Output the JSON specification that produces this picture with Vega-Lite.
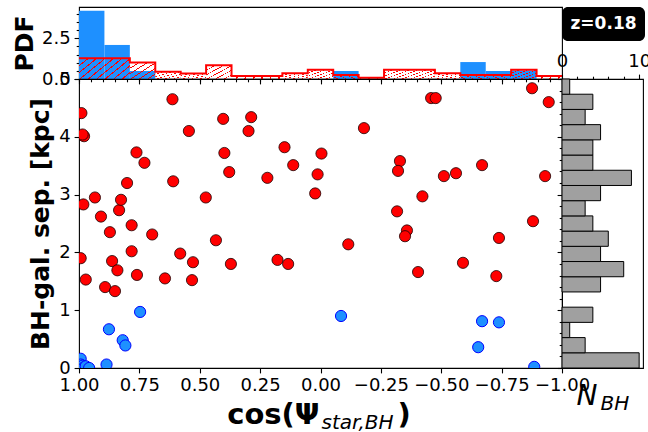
{
  "$schema": "https://vega.github.io/schema/vega-lite/v6.json",
  "background": "white",
  "padding": {"left": 11, "top": 6, "right": 5, "bottom": 5},
  "config": {
    "font": "DejaVu Sans",
    "view": {"stroke": "black", "strokeWidth": 1.1},
    "axis": {"domain": false, "grid": false, "labelFont": "DejaVu Sans", "labelFontSize": 18, "labelColor": "black", "tickColor": "black", "tickWidth": 1.1, "labelFlush": false, "labelOverlap": false, "labelBound": false, "titleFont": "DejaVu Sans", "titleColor": "black", "labelPadding": 4}
  },
  "datasets": {
    "pts": [
      {"c": 1.0, "s": 0.0, "g": "b"}, {"c": 0.995, "s": 0.10, "g": "b"}, {"c": 0.993, "s": 0.16, "g": "b"}, {"c": 0.993, "s": 0.06, "g": "b"},
      {"c": 0.985, "s": 0.04, "g": "b"}, {"c": 0.98, "s": 0.01, "g": "b"}, {"c": 0.972, "s": 0.03, "g": "b"}, {"c": 0.958, "s": 0.0, "g": "b"},
      {"c": 0.886, "s": 0.06, "g": "b"}, {"c": 0.876, "s": 0.67, "g": "b"}, {"c": 0.819, "s": 0.48, "g": "b"}, {"c": 0.808, "s": 0.39, "g": "b"},
      {"c": 0.747, "s": 0.97, "g": "b"}, {"c": -0.085, "s": 0.90, "g": "b"}, {"c": -0.653, "s": 0.36, "g": "b"}, {"c": -0.669, "s": 0.81, "g": "b"},
      {"c": -0.739, "s": 0.79, "g": "b"}, {"c": -0.885, "s": 0.02, "g": "b"},
      {"c": 0.99, "s": 4.41, "g": "r"}, {"c": 0.979, "s": 4.01, "g": "r"}, {"c": 0.985, "s": 4.04, "g": "r"}, {"c": 0.982, "s": 2.83, "g": "r"},
      {"c": 0.993, "s": 1.90, "g": "r"}, {"c": 0.972, "s": 1.53, "g": "r"}, {"c": 0.934, "s": 2.95, "g": "r"}, {"c": 0.909, "s": 2.62, "g": "r"},
      {"c": 0.872, "s": 2.35, "g": "r"}, {"c": 0.863, "s": 1.85, "g": "r"}, {"c": 0.892, "s": 1.40, "g": "r"}, {"c": 0.851, "s": 1.33, "g": "r"},
      {"c": 0.841, "s": 1.69, "g": "r"}, {"c": 0.834, "s": 2.73, "g": "r"}, {"c": 0.826, "s": 2.91, "g": "r"}, {"c": 0.801, "s": 3.20, "g": "r"},
      {"c": 0.782, "s": 2.47, "g": "r"}, {"c": 0.782, "s": 2.02, "g": "r"}, {"c": 0.760, "s": 1.61, "g": "r"}, {"c": 0.762, "s": 3.73, "g": "r"},
      {"c": 0.729, "s": 3.55, "g": "r"}, {"c": 0.697, "s": 2.31, "g": "r"}, {"c": 0.644, "s": 1.55, "g": "r"}, {"c": 0.613, "s": 4.65, "g": "r"},
      {"c": 0.610, "s": 3.23, "g": "r"}, {"c": 0.581, "s": 1.98, "g": "r"}, {"c": 0.545, "s": 4.10, "g": "r"}, {"c": 0.528, "s": 1.83, "g": "r"},
      {"c": 0.532, "s": 1.52, "g": "r"}, {"c": 0.475, "s": 2.95, "g": "r"}, {"c": 0.433, "s": 2.21, "g": "r"}, {"c": 0.403, "s": 4.31, "g": "r"},
      {"c": 0.398, "s": 3.72, "g": "r"}, {"c": 0.378, "s": 3.39, "g": "r"}, {"c": 0.371, "s": 1.80, "g": "r"}, {"c": 0.298, "s": 4.10, "g": "r"},
      {"c": 0.287, "s": 4.34, "g": "r"}, {"c": 0.220, "s": 3.29, "g": "r"}, {"c": 0.178, "s": 1.87, "g": "r"}, {"c": 0.134, "s": 1.80, "g": "r"},
      {"c": 0.149, "s": 3.82, "g": "r"}, {"c": 0.113, "s": 3.51, "g": "r"}, {"c": 0.022, "s": 3.02, "g": "r"}, {"c": 0.012, "s": 3.35, "g": "r"},
      {"c": -0.004, "s": 3.71, "g": "r"}, {"c": -0.18, "s": 4.15, "g": "r"}, {"c": -0.115, "s": 2.14, "g": "r"}, {"c": -0.329, "s": 3.58, "g": "r"},
      {"c": -0.321, "s": 3.41, "g": "r"}, {"c": -0.317, "s": 2.71, "g": "r"}, {"c": -0.358, "s": 2.38, "g": "r"}, {"c": -0.35, "s": 2.28, "g": "r"},
      {"c": -0.404, "s": 1.66, "g": "r"}, {"c": -0.422, "s": 2.97, "g": "r"}, {"c": -0.458, "s": 4.67, "g": "r"}, {"c": -0.477, "s": 4.67, "g": "r"},
      {"c": -0.511, "s": 3.32, "g": "r"}, {"c": -0.561, "s": 3.37, "g": "r"}, {"c": -0.59, "s": 1.82, "g": "r"}, {"c": -0.669, "s": 3.51, "g": "r"},
      {"c": -0.739, "s": 2.25, "g": "r"}, {"c": -0.728, "s": 1.59, "g": "r"}, {"c": -0.876, "s": 4.84, "g": "r"}, {"c": -0.945, "s": 4.60, "g": "r"},
      {"c": -0.93, "s": 3.32, "g": "r"}, {"c": -0.88, "s": 2.54, "g": "r"}
    ],
    "hx": [
      {"ser": "blue", "lo": 0.894737, "hi": 1.0, "pdf": 4.19},
      {"ser": "blue", "lo": 0.789474, "hi": 0.894737, "pdf": 2.09},
      {"ser": "blue", "lo": 0.684211, "hi": 0.789474, "pdf": 0.49},
      {"ser": "blue", "lo": -0.157895, "hi": -0.052632, "pdf": 0.49},
      {"ser": "blue", "lo": -0.684211, "hi": -0.578947, "pdf": 1.04},
      {"ser": "blue", "lo": -0.789474, "hi": -0.684211, "pdf": 0.49},
      {"ser": "blue", "lo": -0.894737, "hi": -0.789474, "pdf": 0.52},
      {"ser": "red", "lo": -1.0, "hi": -0.894737, "pdf": 0.18},
      {"ser": "red", "lo": -0.894737, "hi": -0.789474, "pdf": 0.57},
      {"ser": "red", "lo": -0.789474, "hi": -0.684211, "pdf": 0.25},
      {"ser": "red", "lo": -0.684211, "hi": -0.578947, "pdf": 0.25},
      {"ser": "red", "lo": -0.578947, "hi": -0.473684, "pdf": 0.35},
      {"ser": "red", "lo": -0.473684, "hi": -0.368421, "pdf": 0.57},
      {"ser": "red", "lo": -0.368421, "hi": -0.263158, "pdf": 0.57},
      {"ser": "red", "lo": -0.263158, "hi": -0.157895, "pdf": 0.08},
      {"ser": "red", "lo": -0.157895, "hi": -0.052632, "pdf": 0.25},
      {"ser": "red", "lo": -0.052632, "hi": 0.052632, "pdf": 0.57},
      {"ser": "red", "lo": 0.052632, "hi": 0.157895, "pdf": 0.35},
      {"ser": "red", "lo": 0.157895, "hi": 0.263158, "pdf": 0.18},
      {"ser": "red", "lo": 0.263158, "hi": 0.368421, "pdf": 0.18},
      {"ser": "red", "lo": 0.368421, "hi": 0.473684, "pdf": 0.84},
      {"ser": "red", "lo": 0.473684, "hi": 0.578947, "pdf": 0.33},
      {"ser": "red", "lo": 0.578947, "hi": 0.684211, "pdf": 0.45},
      {"ser": "red", "lo": 0.684211, "hi": 0.789474, "pdf": 1.02},
      {"ser": "red", "lo": 0.789474, "hi": 0.894737, "pdf": 1.27},
      {"ser": "red", "lo": 0.894737, "hi": 1.0, "pdf": 1.27}
    ],
    "hy": [
      {"lo": 0.0, "hi": 0.263158, "n": 10},
      {"lo": 0.263158, "hi": 0.526316, "n": 3},
      {"lo": 0.526316, "hi": 0.789474, "n": 1},
      {"lo": 0.789474, "hi": 1.052632, "n": 4},
      {"lo": 1.315789, "hi": 1.578947, "n": 5},
      {"lo": 1.578947, "hi": 1.842105, "n": 8},
      {"lo": 1.842105, "hi": 2.105263, "n": 5},
      {"lo": 2.105263, "hi": 2.368421, "n": 6},
      {"lo": 2.368421, "hi": 2.631579, "n": 4},
      {"lo": 2.631579, "hi": 2.894737, "n": 3},
      {"lo": 2.894737, "hi": 3.157895, "n": 5},
      {"lo": 3.157895, "hi": 3.421053, "n": 9},
      {"lo": 3.421053, "hi": 3.684211, "n": 4},
      {"lo": 3.684211, "hi": 3.947368, "n": 4},
      {"lo": 3.947368, "hi": 4.210526, "n": 5},
      {"lo": 4.210526, "hi": 4.473684, "n": 3},
      {"lo": 4.473684, "hi": 4.736842, "n": 4},
      {"lo": 4.736842, "hi": 5.0, "n": 1}
    ],
    "lab": [{"t": "z=0.18"}]
  },
  "columns": 2,
  "spacing": 0,
  "bounds": "flush",
  "align": "each",
  "concat": [
    {
      "width": 483,
      "height": 72,
      "data": {"name": "hx"},
      "layer": [
        {
          "transform": [{"filter": "datum.ser === 'blue'"}],
          "mark": {"type": "rect", "color": "#1e90ff"},
          "encoding": {
            "x": {"field": "lo", "type": "quantitative", "scale": {"domain": [-1, 1], "reverse": true, "nice": false, "zero": false},
                  "axis": {"orient": "bottom", "values": [-1, -0.75, -0.5, -0.25, 0, 0.25, 0.5, 0.75, 1], "labels": false, "tickSize": 4.9, "title": null}},
            "x2": {"field": "hi"},
            "y": {"field": "pdf", "type": "quantitative", "scale": {"domain": [0, 4.42], "nice": false},
                  "axis": {"orient": "left", "values": [0, 2.5], "format": ".1f", "tickSize": 4.9, "title": "PDF", "titleFontSize": 25, "titleFontWeight": "bold", "titlePadding": 4}},
            "y2": {"datum": 0}
          }
        },
        {
          "transform": [{"filter": "datum.ser === 'red'"}],
          "mark": {"type": "rect", "strokeWidth": 0,
                   "fill": {"gradient": "linear", "x1": 0, "y1": 0, "x2": 1, "y2": 1, "stops": [
                     {"offset": 0, "color": "#ff0000"}, {"offset": 0.03, "color": "#ff0000"}, {"offset": 0.03, "color": "rgba(255,0,0,0)"},
                     {"offset": 0.1667, "color": "rgba(255,0,0,0)"}, {"offset": 0.1667, "color": "#ff0000"}, {"offset": 0.1967, "color": "#ff0000"}, {"offset": 0.1967, "color": "rgba(255,0,0,0)"},
                     {"offset": 0.3333, "color": "rgba(255,0,0,0)"}, {"offset": 0.3333, "color": "#ff0000"}, {"offset": 0.3633, "color": "#ff0000"}, {"offset": 0.3633, "color": "rgba(255,0,0,0)"},
                     {"offset": 0.5, "color": "rgba(255,0,0,0)"}, {"offset": 0.5, "color": "#ff0000"}, {"offset": 0.53, "color": "#ff0000"}, {"offset": 0.53, "color": "rgba(255,0,0,0)"},
                     {"offset": 0.6667, "color": "rgba(255,0,0,0)"}, {"offset": 0.6667, "color": "#ff0000"}, {"offset": 0.6967, "color": "#ff0000"}, {"offset": 0.6967, "color": "rgba(255,0,0,0)"},
                     {"offset": 0.8333, "color": "rgba(255,0,0,0)"}, {"offset": 0.8333, "color": "#ff0000"}, {"offset": 0.8633, "color": "#ff0000"}, {"offset": 0.8633, "color": "rgba(255,0,0,0)"},
                     {"offset": 1, "color": "rgba(255,0,0,0)"}
                   ]}},
          "encoding": {
            "x": {"field": "lo", "type": "quantitative",
                  "axis": {"orient": "bottom", "values": [-1, -0.95, -0.9, -0.85, -0.8, -0.75, -0.7, -0.65, -0.6, -0.55, -0.5, -0.45, -0.4, -0.35, -0.3, -0.25, -0.2, -0.15, -0.1, -0.05, 0, 0.05, 0.1, 0.15, 0.2, 0.25, 0.3, 0.35, 0.4, 0.45, 0.5, 0.55, 0.6, 0.65, 0.7, 0.75, 0.8, 0.85, 0.9, 0.95, 1], "labels": false, "tickSize": 2.8, "title": null}},
            "x2": {"field": "hi"},
            "y": {"field": "pdf", "type": "quantitative",
                  "axis": {"orient": "left", "values": [0.5, 1, 1.5, 2, 3, 3.5, 4], "labels": false, "tickSize": 2.8, "title": null}},
            "y2": {"datum": 0}
          }
        },
        {
          "transform": [{"filter": "datum.ser === 'red'"}, {"fold": ["lo", "hi"], "as": ["k", "edge"]}],
          "mark": {"type": "line", "color": "#ff0000", "strokeWidth": 2, "strokeJoin": "miter"},
          "encoding": {
            "x": {"field": "edge", "type": "quantitative", "axis": null},
            "y": {"field": "pdf", "type": "quantitative", "axis": null},
            "order": {"value": null}
          }
        }
      ],
      "resolve": {"axis": {"x": "independent", "y": "independent"}}
    },
    {
      "width": 83,
      "height": 34,
      "view": {"stroke": null, "fill": "black", "cornerRadius": 6},
      "data": {"name": "lab"},
      "mark": {"type": "text", "color": "white", "fontSize": 17, "fontWeight": "bold", "font": "DejaVu Sans", "align": "center", "baseline": "middle"},
      "encoding": {"text": {"field": "t", "type": "nominal"}}
    },
    {
      "width": 483,
      "height": 289,
      "data": {"name": "pts"},
      "layer": [
        {
          "transform": [{"filter": "datum.g === 'b'"}],
          "mark": {"type": "circle", "size": 125, "color": "#1e90ff", "stroke": "#0000ff", "strokeWidth": 1, "opacity": 1, "clip": true},
          "encoding": {
            "x": {"field": "c", "type": "quantitative", "scale": {"domain": [-1, 1], "reverse": true, "nice": false, "zero": false},
                  "axis": {"orient": "bottom", "values": [1, 0.75, 0.5, 0.25, 0, -0.25, -0.5, -0.75, -1], "format": ".2f", "tickSize": 4.9,
                           "title": "cos(Ψ", "titleFontSize": 29, "titleFontWeight": "bold", "titleX": 240, "titleY": 55, "titleAlign": "right", "titleBaseline": "alphabetic"}},
            "y": {"field": "s", "type": "quantitative", "scale": {"domain": [0, 5], "nice": false, "zero": false},
                  "axis": {"orient": "left", "values": [0, 1, 2, 3, 4, 5], "format": "d", "tickSize": 4.9, "title": "BH-gal. sep. [kpc]", "titleFontSize": 25, "titleFontWeight": "bold", "titlePadding": 5}}
          }
        },
        {
          "transform": [{"filter": "datum.g === 'r'"}],
          "mark": {"type": "circle", "size": 125, "color": "#ff0000", "stroke": "#1a0000", "strokeWidth": 0.8, "opacity": 1, "clip": true},
          "encoding": {
            "x": {"field": "c", "type": "quantitative",
                  "axis": {"orient": "bottom", "labels": false, "ticks": false, "domain": false, "title": "star,BH", "titleFontSize": 20, "titleFontWeight": "normal", "titleFontStyle": "italic", "titleX": 242, "titleY": 60, "titleAlign": "left", "titleBaseline": "alphabetic"}},
            "y": {"field": "s", "type": "quantitative", "axis": null}
          }
        },
        {
          "mark": {"type": "circle", "size": 10, "opacity": 0, "clip": true},
          "encoding": {
            "x": {"field": "c", "type": "quantitative",
                  "axis": {"orient": "bottom", "labels": false, "ticks": false, "domain": false, "title": ")", "titleFontSize": 29, "titleFontWeight": "bold", "titleX": 318, "titleY": 55, "titleAlign": "left", "titleBaseline": "alphabetic"}},
            "y": {"field": "s", "type": "quantitative", "axis": null}
          }
        }
      ],
      "resolve": {"axis": {"x": "independent", "y": "independent"}}
    },
    {
      "width": 81,
      "height": 289,
      "data": {"name": "hy"},
      "layer": [
        {
          "mark": {"type": "rect", "fill": "#a0a0a0", "stroke": "black", "strokeWidth": 1},
          "encoding": {
            "y": {"field": "lo", "type": "quantitative", "scale": {"domain": [0, 5], "nice": false, "zero": false},
                  "axis": {"orient": "left", "values": [0, 1, 2, 3, 4, 5], "labels": false, "tickSize": 4.9, "title": null}},
            "y2": {"field": "hi"},
            "x": {"field": "n", "type": "quantitative", "scale": {"domain": [0, 10.5], "nice": false},
                  "axis": {"orient": "top", "values": [0, 10], "tickSize": 4.9, "title": null}},
            "x2": {"datum": 0}
          }
        },
        {
          "mark": {"type": "rect", "opacity": 0},
          "encoding": {
            "y": {"field": "lo", "type": "quantitative",
                  "axis": {"orient": "left", "values": [0.2, 0.4, 0.6, 0.8, 1.2, 1.4, 1.6, 1.8, 2.2, 2.4, 2.6, 2.8, 3.2, 3.4, 3.6, 3.8, 4.2, 4.4, 4.6, 4.8], "labels": false, "tickSize": 2.8, "title": null}},
            "y2": {"field": "hi"},
            "x": {"field": "n", "type": "quantitative",
                  "axis": {"orient": "top", "values": [2, 4, 6, 8], "labels": false, "tickSize": 2.8, "title": null}},
            "x2": {"datum": 0}
          }
        },
        {
          "mark": {"type": "rect", "opacity": 0},
          "encoding": {
            "y": {"field": "lo", "type": "quantitative", "axis": null},
            "y2": {"field": "hi"},
            "x": {"field": "n", "type": "quantitative",
                  "axis": {"orient": "bottom", "labels": false, "ticks": false, "domain": false, "title": "N", "titleFontSize": 28, "titleFontWeight": "normal", "titleFontStyle": "italic", "titleX": 14, "titleY": 36, "titleAlign": "left", "titleBaseline": "alphabetic"}},
            "x2": {"datum": 0}
          }
        },
        {
          "mark": {"type": "rect", "opacity": 0},
          "encoding": {
            "y": {"field": "lo", "type": "quantitative", "axis": null},
            "y2": {"field": "hi"},
            "x": {"field": "n", "type": "quantitative",
                  "axis": {"orient": "bottom", "labels": false, "ticks": false, "domain": false, "title": "BH", "titleFontSize": 20, "titleFontWeight": "normal", "titleFontStyle": "italic", "titleX": 38, "titleY": 41, "titleAlign": "left", "titleBaseline": "alphabetic"}},
            "x2": {"datum": 0}
          }
        }
      ],
      "resolve": {"axis": {"x": "independent", "y": "independent"}}
    }
  ]
}
